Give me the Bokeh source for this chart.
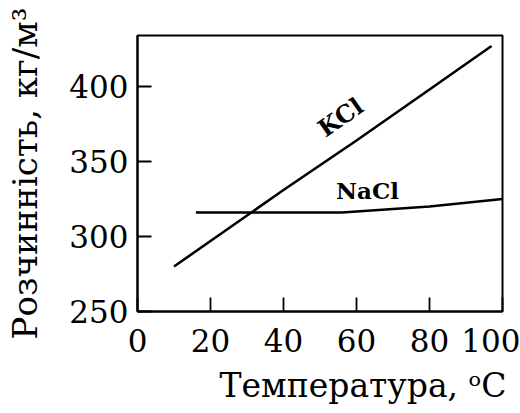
from bokeh.plotting import figure
from bokeh.models import Range1d, FixedTicker, Label
from bokeh.embed import file_html
from bokeh.resources import INLINE

# Data
kcl_t = [10, 20, 40, 60, 80, 97]
kcl_s = [280, 297, 331, 364, 398, 427]
nacl_t = [16, 40, 56, 80, 100]
nacl_s = [316, 316, 316, 320, 325]
x_ticks = [0, 20, 40, 60, 80, 100]
y_ticks = [250, 300, 350, 400]
x_title = "Температура, ᵒC"
y_title = "Розчинність, кг/м³"

FONT = "DejaVu Serif"

p = figure(width=520, height=413, output_backend="svg", toolbar_location=None,
           x_range=Range1d(0, 100), y_range=Range1d(250, 434),
           min_border_left=137, min_border_right=18, min_border_top=35,
           min_border_bottom=100, background_fill_color="white",
           border_fill_color="white", title_location="below")
p.grid.visible = False
p.outline_line_color = "black"
p.outline_line_width = 2
p.outline_line_alpha = 1

p.line(kcl_t, kcl_s, line_color="black", line_width=2.6)
p.line(nacl_t, nacl_s, line_color="black", line_width=2.6)

for ax, ticks in ((p.xaxis[0], x_ticks), (p.yaxis[0], y_ticks)):
    ax.ticker = FixedTicker(ticks=ticks)
    ax.minor_tick_line_color = None
    ax.major_tick_in = 14
    ax.major_tick_out = 0
    ax.major_tick_line_width = 1.8
    ax.major_tick_line_color = "black"
    ax.axis_line_width = 2
    ax.axis_line_color = "black"
    ax.major_label_text_font = FONT
    ax.major_label_text_font_size = "31px"
    ax.major_label_text_color = "black"

p.xaxis[0].major_label_standoff = 17
p.yaxis[0].major_label_standoff = 9

# x title as a right-aligned title below the axis
p.title.text = x_title
p.title.align = "right"
p.title.offset = -4
p.title.standoff = 18
p.title.text_font = FONT
p.title.text_font_size = "33px"
p.title.text_font_style = "normal"
p.title.text_color = "black"

yax = p.yaxis[0]
yax.axis_label = y_title
yax.axis_label_text_font = FONT
yax.axis_label_text_font_size = "34px"
yax.axis_label_text_font_style = "normal"
yax.axis_label_text_color = "black"
yax.axis_label_standoff = 21

p.add_layout(Label(x=55.6, y=379.5, text="KCl", angle=35, angle_units="deg",
                   text_align="center", text_baseline="middle",
                   text_font=FONT, text_font_style="bold",
                   text_font_size="24px", text_color="black"))
p.add_layout(Label(x=63, y=330.5, text="NaCl",
                   text_align="center", text_baseline="middle",
                   text_font=FONT, text_font_style="bold",
                   text_font_size="23px", text_color="black"))

open("out.html", "w").write(file_html(p, INLINE))
